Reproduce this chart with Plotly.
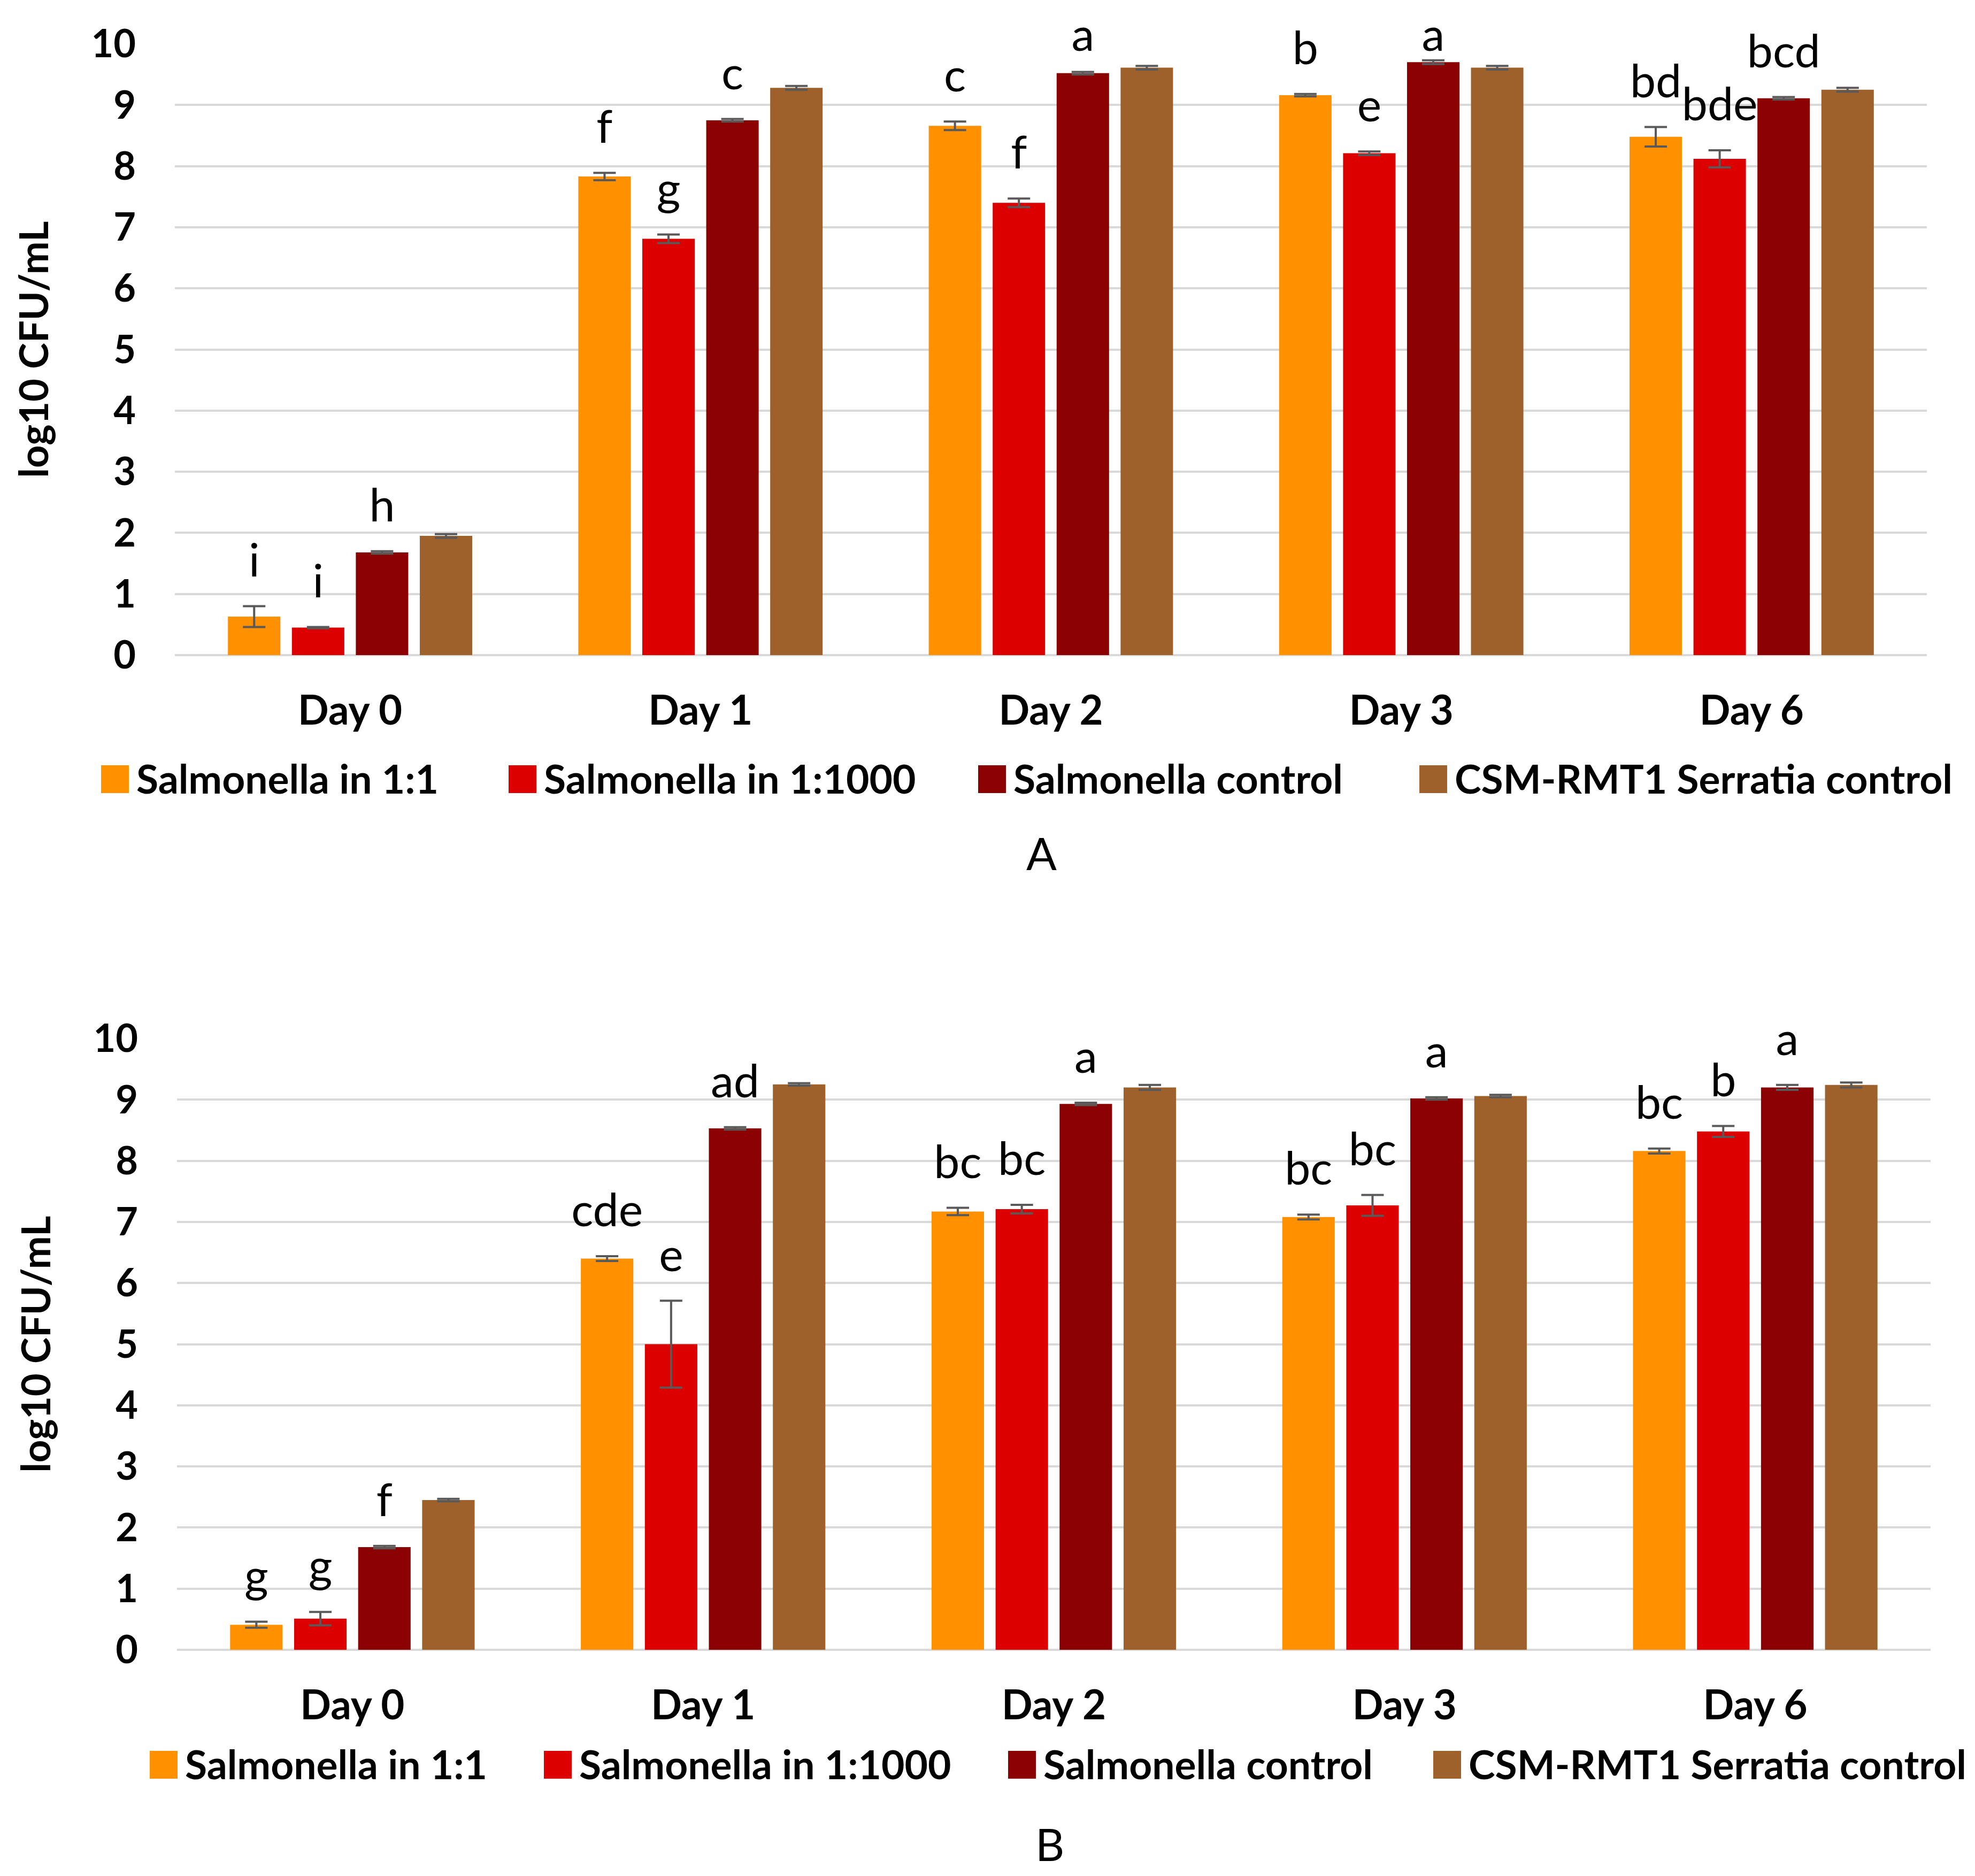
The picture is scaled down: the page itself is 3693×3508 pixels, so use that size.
import plotly.graph_objects as go

W, H = 3693, 3508
OFF = 8  # page body margin added by the browser (px)

days = ["Day 0", "Day 1", "Day 2", "Day 3", "Day 6"]
series_names = ["Salmonella in 1:1", "Salmonella in 1:1000",
                "Salmonella control", "CSM-RMT1 Serratia control"]
colors = ["#FF9100", "#DC0000", "#8B0000", "#9F612B"]

# ---- Panel A ----
a_11 = [0.63, 7.83, 8.66, 9.16, 8.48]
a_11_err = [0.17, 0.06, 0.07, 0.02, 0.16]
a_1000 = [0.45, 6.81, 7.40, 8.21, 8.12]
a_1000_err = [0.01, 0.07, 0.07, 0.03, 0.14]
a_ctrl = [1.68, 8.75, 9.52, 9.70, 9.11]
a_ctrl_err = [0.02, 0.02, 0.02, 0.03, 0.02]
a_serr = [1.95, 9.28, 9.61, 9.61, 9.25]
a_serr_err = [0.03, 0.03, 0.03, 0.03, 0.03]
a_lab_11 = ["i", "f", "c", "b", "bd"]
a_lab_1000 = ["i", "g", "f", "e", "bde"]
a_lab_ctrl = ["h", "c", "a", "a", "bcd"]
a_lab_serr = ["", "", "", "", ""]

# ---- Panel B ----
b_11 = [0.41, 6.40, 7.17, 7.08, 8.16]
b_11_err = [0.05, 0.04, 0.06, 0.04, 0.04]
b_1000 = [0.51, 5.00, 7.21, 7.27, 8.48]
b_1000_err = [0.11, 0.71, 0.07, 0.17, 0.09]
b_ctrl = [1.68, 8.53, 8.93, 9.02, 9.20]
b_ctrl_err = [0.02, 0.02, 0.02, 0.02, 0.04]
b_serr = [2.45, 9.25, 9.20, 9.06, 9.24]
b_serr_err = [0.02, 0.02, 0.04, 0.02, 0.04]
b_lab_11 = ["g", "cde", "bc", "bc", "bc"]
b_lab_1000 = ["g", "e", "bc", "bc", "b"]
b_lab_ctrl = ["f", "ad", "a", "a", "a"]
b_lab_serr = ["", "", "", "", ""]

y_ticks = [0, 1, 2, 3, 4, 5, 6, 7, 8, 9, 10]

FONT = "Lato"
LABEL_PAD = 0.30   # gap (data units) between error-bar top and letter label
LABEL_MAX = 9.70   # labels never rise above this level (keeps them inside the figure)


def px_x(v):
    return (v - OFF) / W


def px_y(v):
    return 1 - (v - OFF) / H


panels = [
    dict(vals=[a_11, a_1000, a_ctrl, a_serr],
         errs=[a_11_err, a_1000_err, a_ctrl_err, a_serr_err],
         labs=[a_lab_11, a_lab_1000, a_lab_ctrl, a_lab_serr],
         xa="x", ya="y", legends=["legend", "legend2", "legend3", "legend4"]),
    dict(vals=[b_11, b_1000, b_ctrl, b_serr],
         errs=[b_11_err, b_1000_err, b_ctrl_err, b_serr_err],
         labs=[b_lab_11, b_lab_1000, b_lab_ctrl, b_lab_serr],
         xa="x2", ya="y2", legends=["legend5", "legend6", "legend7", "legend8"]),
]

fig = go.Figure()
for p in panels:
    for i in range(4):
        fig.add_trace(go.Bar(
            x=days, y=p["vals"][i], name=series_names[i],
            marker=dict(color=colors[i], line=dict(width=0)),
            error_y=dict(type="data", array=p["errs"][i], visible=True,
                         color="#595959", thickness=4, width=21),
            xaxis=p["xa"], yaxis=p["ya"], legend=p["legends"][i],
            offsetgroup=str(i), showlegend=True,
        ))
    for i in range(4):
        tops = [min(v + e + LABEL_PAD, LABEL_MAX)
                for v, e in zip(p["vals"][i], p["errs"][i])]
        fig.add_trace(go.Scatter(
            x=days, y=tops, text=p["labs"][i], mode="text",
            textposition="top center",
            textfont=dict(family=FONT, size=86, color="#000000"),
            xaxis=p["xa"], yaxis=p["ya"], showlegend=False,
            offsetgroup=str(i), cliponaxis=False, hoverinfo="skip",
        ))

axis_y_common = dict(
    range=[0, 10], tickvals=y_ticks, showgrid=True, gridcolor="#D9D9D9",
    gridwidth=4, zeroline=True, zerolinecolor="#D9D9D9", zerolinewidth=4,
    showline=False, ticks="", ticklabelstandoff=72, automargin=False,
    tickfont=dict(family=FONT, size=72, color="#000000", weight="bold"),
    title=dict(text="log10 CFU/mL", standoff=55,
               font=dict(family=FONT, size=74, color="#000000", weight="bold")),
)
axis_x_common = dict(
    showgrid=False, zeroline=False, showline=False, ticks="",
    ticklabelstandoff=53, automargin=False,
    tickfont=dict(family=FONT, size=76, color="#000000", weight="bold"),
)

fig.update_layout(
    width=W, height=H,
    margin=dict(l=0, r=0, t=0, b=0, autoexpand=False),
    paper_bgcolor="white", plot_bgcolor="white",
    barmode="group", bargap=0.27, bargroupgap=0.18,
    scattermode="group", scattergap=0.27,
    xaxis=dict(domain=[px_x(327), px_x(3603)], anchor="y", **axis_x_common),
    yaxis=dict(domain=[px_y(1225), px_y(82)], anchor="x", **axis_y_common),
    xaxis2=dict(domain=[px_x(331), px_x(3610)], anchor="y2", **axis_x_common),
    yaxis2=dict(domain=[px_y(3085), px_y(1942)], anchor="x2", **axis_y_common),
)

# legends: one per entry so that each entry sits where the original places it
leg_font = dict(family=FONT, size=75, color="#000000", weight="bold")
legA_text_x = [255, 1017, 1895, 2720]
legB_text_x = [346, 1083, 1951, 2746]
legA_y, legB_y = 1455, 3298
SW = 52  # legend swatch size (px)
names = ["legend", "legend2", "legend3", "legend4",
         "legend5", "legend6", "legend7", "legend8"]
legend_cfg = {}
shapes = []
for k, name in enumerate(names):
    if k < 4:
        tx, ypx = legA_text_x[k], legA_y
    else:
        tx, ypx = legB_text_x[k - 4], legB_y
    lx = tx - 40  # legend box left edge (text sits 40 px right of it)
    legend_cfg[name] = dict(
        x=px_x(lx), y=px_y(ypx), xanchor="left", yanchor="middle",
        orientation="h", font=leg_font, bgcolor="rgba(0,0,0,0)",
        borderwidth=0, itemclick=False, itemdoubleclick=False,
    )
    # enlarged square swatch drawn over the legend's own small symbol
    sx1 = lx + 26
    sx0 = sx1 - SW
    shapes.append(dict(
        type="rect", xref="paper", yref="paper",
        x0=px_x(sx0), x1=px_x(sx1),
        y0=px_y(ypx + 2 + SW / 2), y1=px_y(ypx + 2 - SW / 2),
        fillcolor=colors[k % 4], line=dict(width=0), layer="above",
    ))
fig.update_layout(**legend_cfg)
fig.update_layout(shapes=shapes)

fig.add_annotation(text="A", x=px_x(1947), y=px_y(1594), xref="paper", yref="paper",
                   showarrow=False, xanchor="center", yanchor="middle",
                   font=dict(family=FONT, size=84, color="#000000"))
fig.add_annotation(text="B", x=px_x(1963), y=px_y(3447), xref="paper", yref="paper",
                   showarrow=False, xanchor="center", yanchor="middle",
                   font=dict(family=FONT, size=84, color="#000000"))

fig.write_html("out.html")
